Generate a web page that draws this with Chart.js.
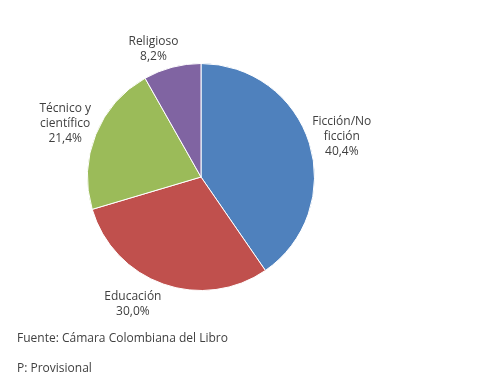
<!DOCTYPE html>
<html><head><meta charset="utf-8">
<script src="https://cdn.jsdelivr.net/npm/chart.js@4/dist/chart.umd.min.js"></script>
<style>html,body{margin:0;padding:0;background:#fff;}canvas{display:block;}</style>
</head><body>
<canvas id="c" width="504" height="386"></canvas>
<script>
const categories = [["Ficción/No", "ficción"], ["Educación"], ["Técnico y", "científico"], ["Religioso"]];
const values = [40.4, 30.0, 21.4, 8.2];
const valueLabels = ["40,4%", "30,0%", "21,4%", "8,2%"];
const colors = ["#4F81BD", "#C0504D", "#9BBB59", "#8064A2"];
const footnotes = ["Fuente: Cámara Colombiana del Libro", "P: Provisional"];

const labelNudge = [[0, 3], [-19, -12], [1, 2], [-10, 15]];
const FONT = "12px 'Open Sans'";
const TXT = "#404040";

const labelPlugin = {
  id: 'labels',
  afterDatasetsDraw(chart) {
    const ctx = chart.ctx;
    const meta = chart.getDatasetMeta(0);
    ctx.save();
    ctx.font = FONT;
    ctx.fillStyle = TXT;
    ctx.textAlign = 'center';
    ctx.textBaseline = 'middle';
    meta.data.forEach((arc, i) => {
      const p = arc.getProps(['x', 'y', 'startAngle', 'endAngle', 'outerRadius'], true);
      const mid = (p.startAngle + p.endAngle) / 2;
      const r = p.outerRadius + 34;
      const cx = p.x + Math.cos(mid) * r + labelNudge[i][0];
      const cy = p.y + Math.sin(mid) * r + labelNudge[i][1];
      const lines = categories[i].concat([valueLabels[i]]);
      const lh = 15;
      const top = cy - (lines.length - 1) * lh / 2;
      lines.forEach((t, k) => ctx.fillText(t, cx, top + k * lh));
    });
    ctx.textAlign = 'left';
    footnotes.forEach((t, k) => ctx.fillText(t, 17, 339 + k * 30));
    ctx.restore();
  }
};

new Chart(document.getElementById('c'), {
  type: 'pie',
  data: {
    labels: categories.map(c => c.join(' ')),
    datasets: [{ data: values, backgroundColor: colors, borderColor: '#ffffff', borderWidth: 1 }]
  },
  options: {
    responsive: false,
    animation: false,
    layout: { padding: { left: 87, right: 189, top: 63, bottom: 95 } },
    plugins: { legend: { display: false }, tooltip: { enabled: false } }
  },
  plugins: [labelPlugin]
});
</script>
</body></html>
